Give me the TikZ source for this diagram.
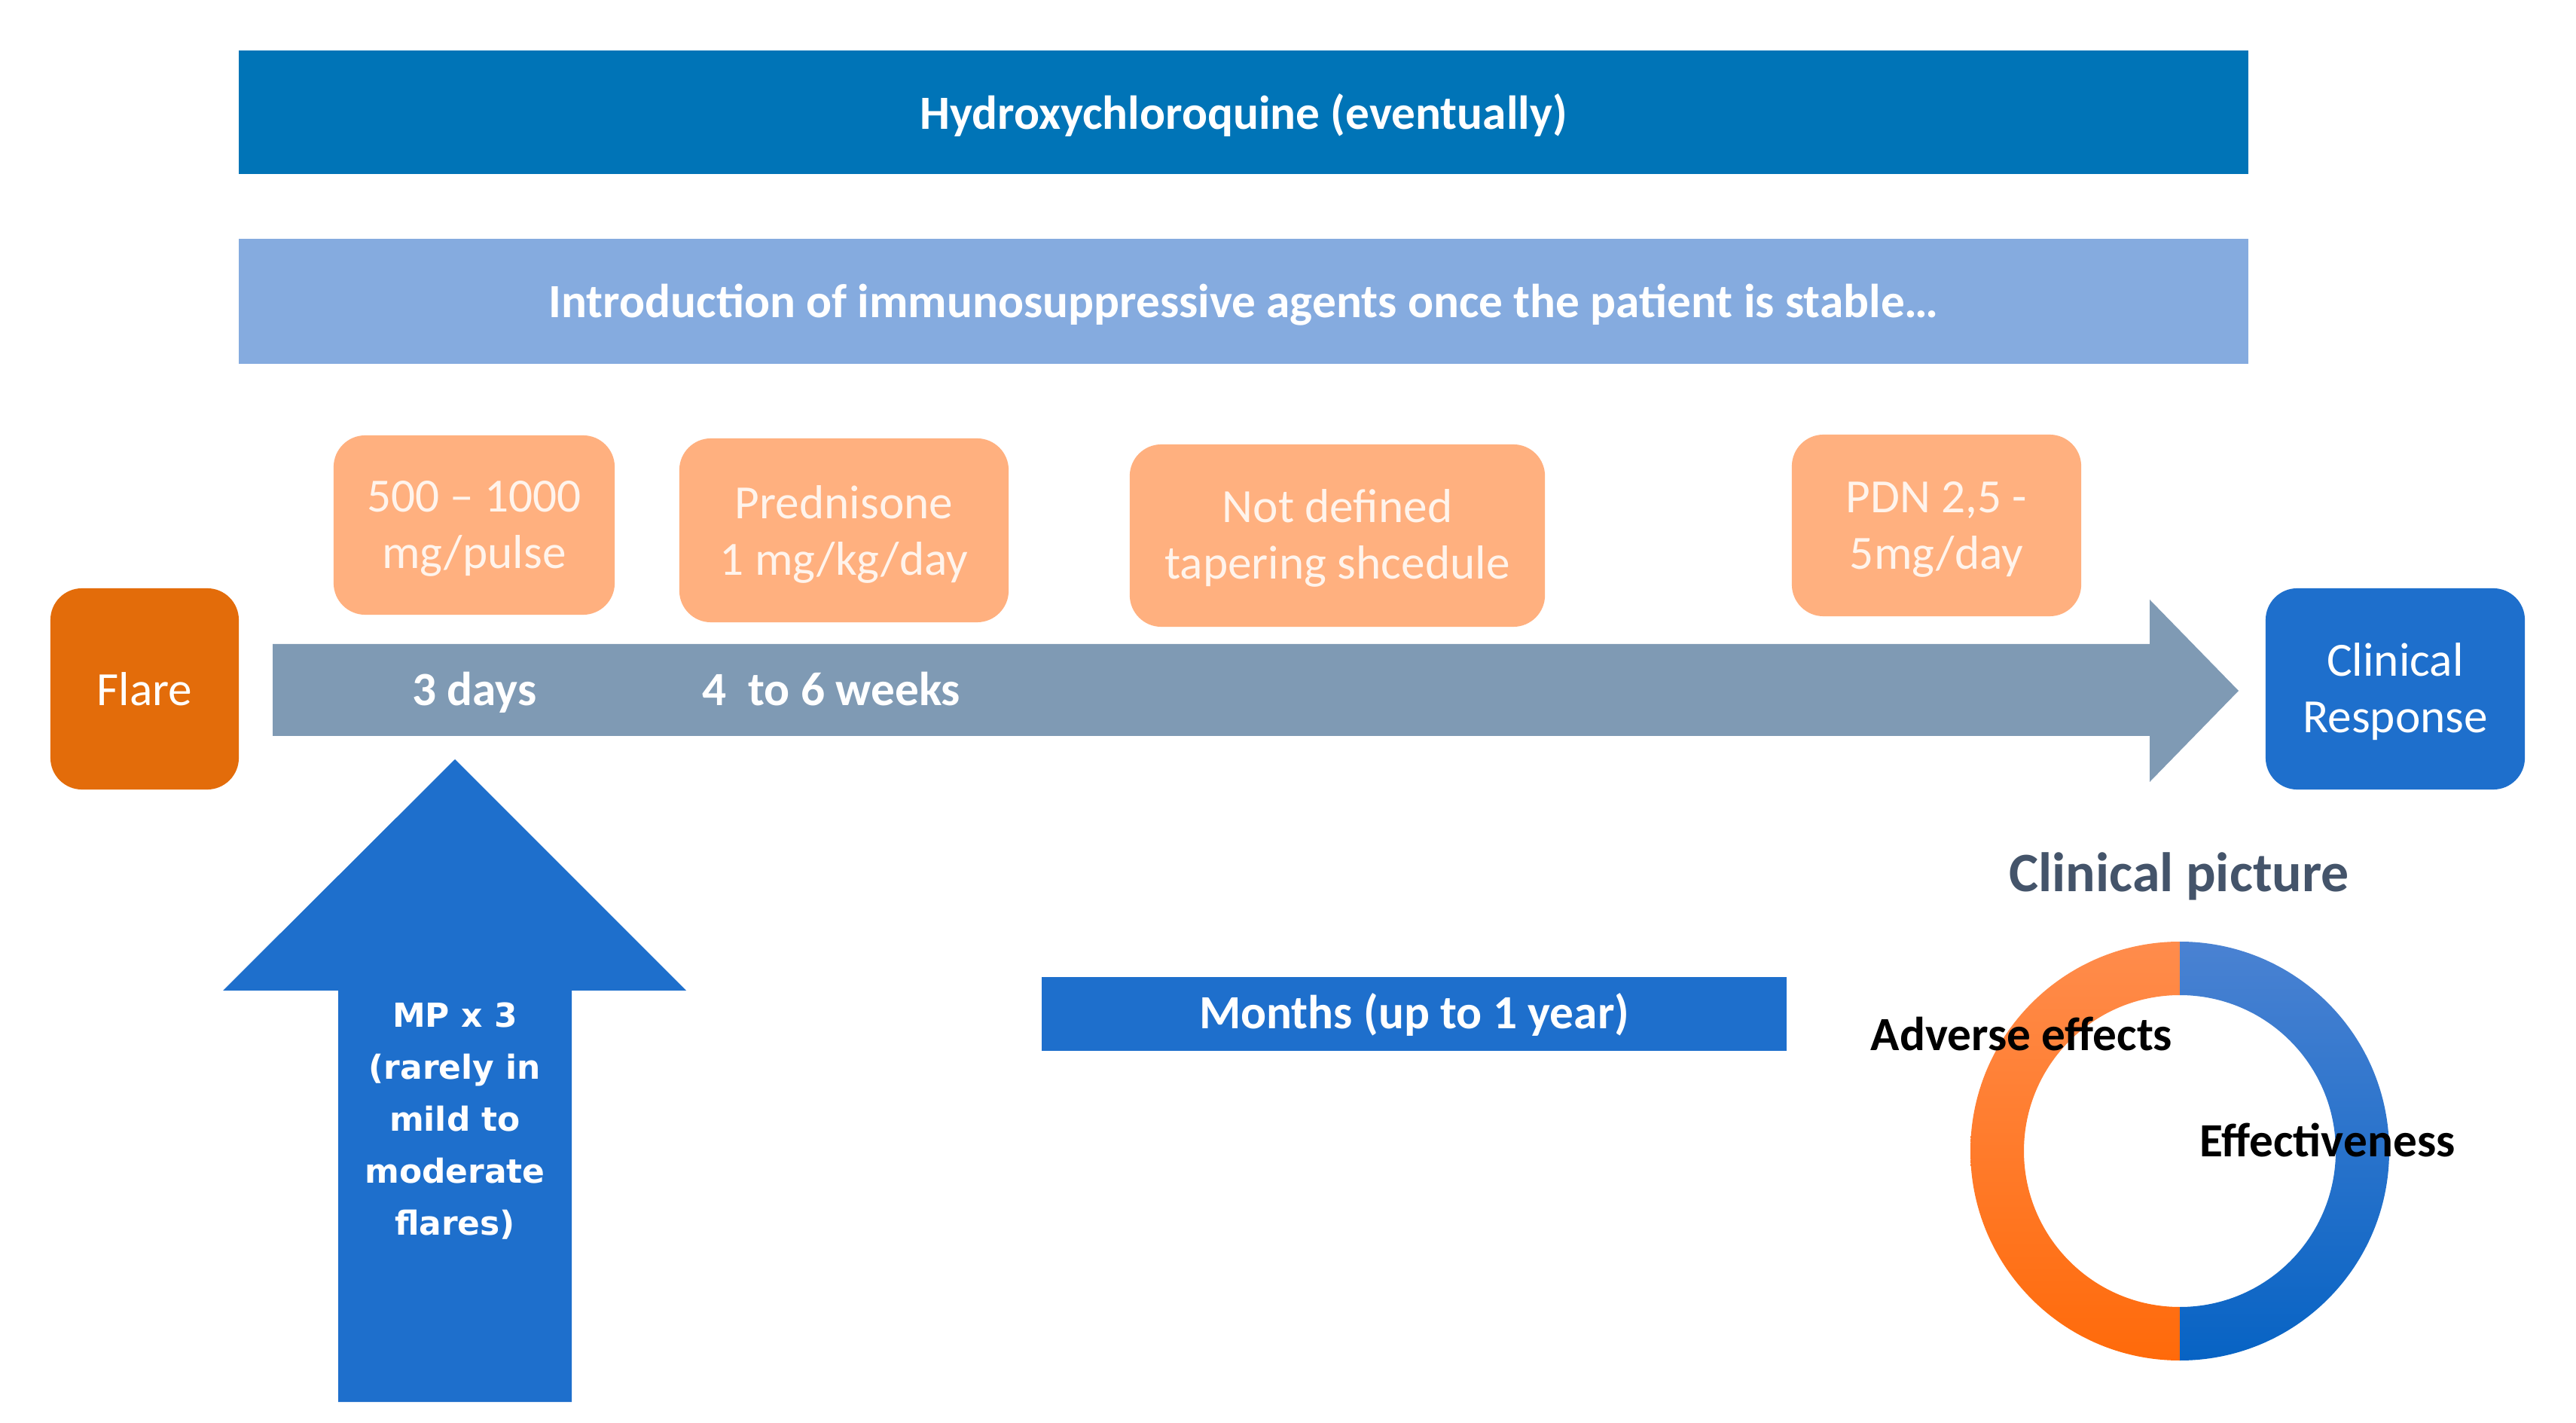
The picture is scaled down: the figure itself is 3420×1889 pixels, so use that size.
\documentclass[tikz,border=0pt]{standalone}
\usepackage{fontspec}
\setmainfont{Carlito}
\newfontfamily\dejavu{DejaVu Sans}
\definecolor{hcq}{HTML}{0074B7}
\definecolor{intro}{HTML}{85ABDF}
\definecolor{flarec}{HTML}{E36C0A}
\definecolor{peach}{HTML}{FFB07F}
\definecolor{peachtext}{HTML}{FFF4EC}
\definecolor{grayar}{HTML}{7F9AB4}
\definecolor{bluec}{HTML}{1E6FCC}
\definecolor{titlec}{HTML}{44546A}
\definecolor{orT}{HTML}{FF8C4C}
\definecolor{orB}{HTML}{FF6A0A}
\definecolor{blT}{HTML}{4A82D2}
\definecolor{blB}{HTML}{0763C4}
\begin{document}
\begin{tikzpicture}[x=0.01cm,y=-0.01cm,
  bar/.style={rectangle, inner sep=0pt},
  bartext/.style={inner sep=0pt, anchor=base, text=white, font=\fontsize{18}{21.6}\selectfont\bfseries},
  peachbox/.style={rectangle, rounded corners=0.42cm, fill=peach, inner sep=0pt},
  peachtext/.style={inner sep=0pt, anchor=base, text=peachtext, align=center, font=\fontsize{18}{21.6}\selectfont},
  endbox/.style={rectangle, rounded corners=0.42cm, inner sep=0pt},
  endtext/.style={inner sep=0pt, anchor=base, text=white, align=center, font=\fontsize{18}{21.6}\selectfont},
  lbl/.style={inner sep=0pt, anchor=base, font=\fontsize{18}{21.6}\selectfont\bfseries}
]
\useasboundingbox (0,0) rectangle (3420,1889);
\fill[white] (0,0) rectangle (3420,1889);

% top bars
\node[bar, fill=hcq, minimum width=26.66cm, minimum height=1.64cm] (hcq) at (1651,149) {};
\node[bartext] (hcqt) at (1651,172) {Hydroxychloroquine (eventually)};
\node[bar, fill=intro, minimum width=26.66cm, minimum height=1.66cm] (intro) at (1651,400) {};
\node[bartext] (introt) at (1651,422) {Introduction of immunosuppressive agents once the patient is stable…};

% timeline arrow
\fill[grayar] (362,855) -- (2854,855) -- (2854,796) -- (2972,917) -- (2854,1038) -- (2854,977) -- (362,977) -- cycle;
\node[lbl, text=white] (d3) at (630,937) {3 days};
\node[lbl, text=white] (w46) at (1104,937) {4~ to 6 weeks};

% peach boxes
\node[peachbox, minimum width=3.73cm, minimum height=2.38cm] (pulse) at (629.5,697) {};
\node[peachtext] (pulset) at (629.5,755) {500 – 1000\\mg/pulse};
\node[peachbox, minimum width=4.37cm, minimum height=2.44cm] (pred) at (1120.5,704) {};
\node[peachtext] (predt) at (1120.5,764) {Prednisone\\1 mg/kg/day};
\node[peachbox, minimum width=5.51cm, minimum height=2.42cm] (taper) at (1775.5,711) {};
\node[peachtext] (tapert) at (1775.5,769) {Not defined\\tapering shcedule};
\node[peachbox, minimum width=3.84cm, minimum height=2.41cm] (pdn) at (2571,697.5) {};
\node[peachtext] (pdnt) at (2571,756) {PDN 2,5 -\\5mg/day};

% end boxes
\node[endbox, fill=flarec, minimum width=2.5cm, minimum height=2.67cm] (flare) at (192,914.5) {};
\node[endtext] (flaret) at (192,937) {Flare};
\node[endbox, fill=bluec, minimum width=3.44cm, minimum height=2.67cm] (resp) at (3180,914.5) {};
\node[endtext] (respt) at (3180,973) {Clinical\\Response};

% up arrow
\fill[bluec] (604,1008) -- (911,1315) -- (759,1315) -- (759,1861) -- (449,1861) -- (449,1315) -- (296,1315) -- cycle;
\node[inner sep=0pt, text=white, align=center, anchor=base, font=\dejavu\fontsize{12.5}{19.6}\selectfont\bfseries] (mp) at (604,1639) {MP x 3\\(rarely in\\mild to\\moderate\\flares)};

% months bar
\node[bar, fill=bluec, minimum width=9.89cm, minimum height=0.98cm] (months) at (1877.5,1346) {};
\node[bartext] (monthst) at (1877.5,1366) {Months (up to 1 year)};

% clinical picture
\node[inner sep=0pt, text=titlec, font=\fontsize{21}{25}\selectfont\bfseries] (ctitle) at (2893,1163) {Clinical picture};
\shade[top color=orT, bottom color=orB] (2894,1250) arc[start angle=270, end angle=90, radius=278] -- (2894,1735) arc[start angle=90, end angle=270, radius=207] -- cycle;
\shade[top color=blT, bottom color=blB] (2894,1250) arc[start angle=270, end angle=450, radius=278] -- (2894,1735) arc[start angle=90, end angle=-90, radius=207] -- cycle;
\node[lbl, text=black] (adv) at (2684,1395) {Adverse effects};
\node[lbl, text=black] (eff) at (3090,1535) {Effectiveness};
\end{tikzpicture}
\end{document}
